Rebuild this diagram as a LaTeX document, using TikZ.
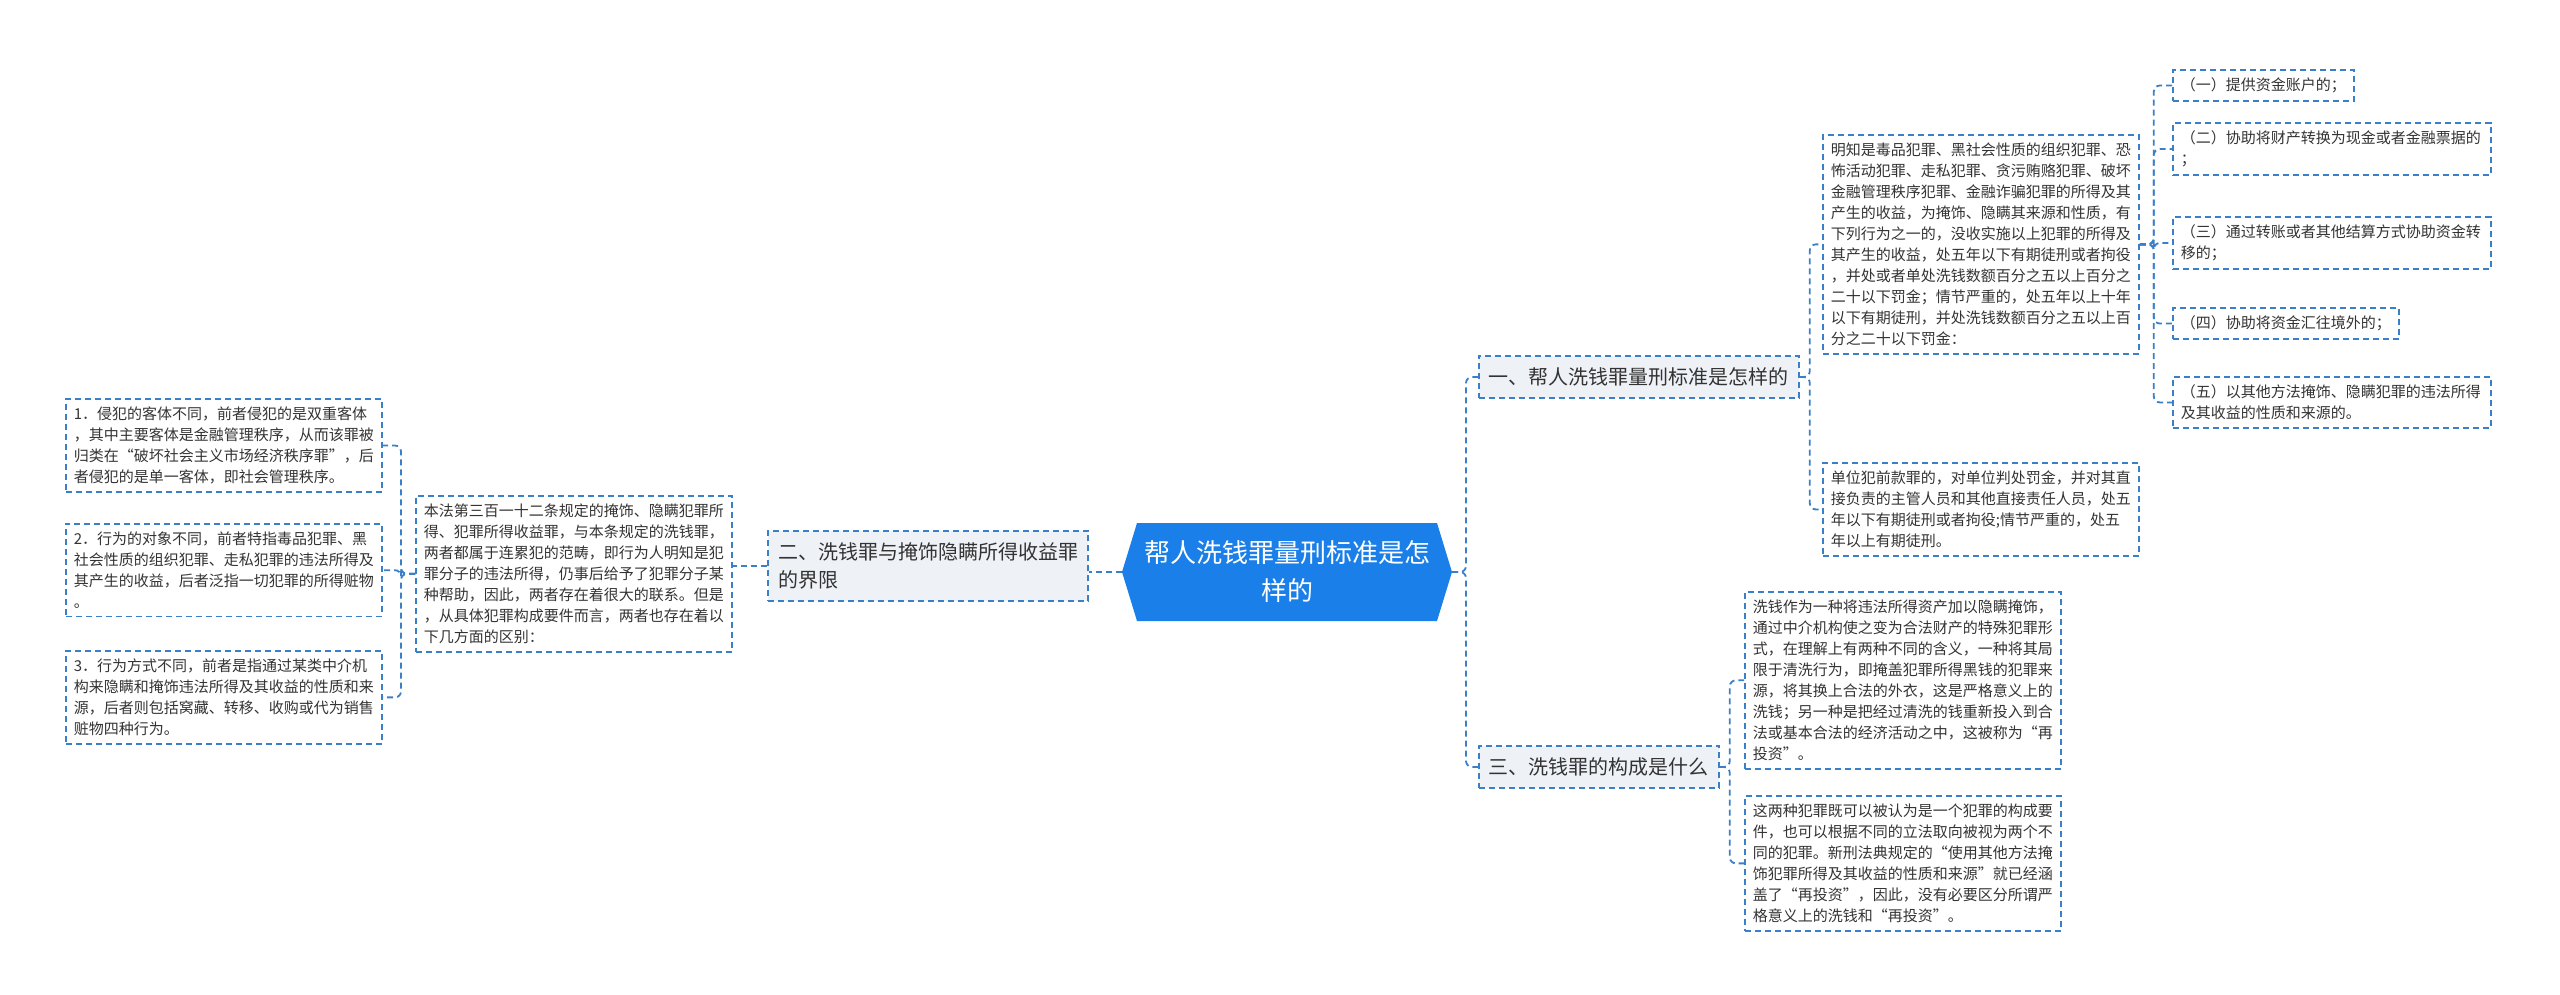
\documentclass[tikz,border=0pt]{standalone}
\usepackage{fontspec}
\setmainfont{Noto Sans CJK SC}
\begin{document}
\begin{tikzpicture}[x=0.5pt,y=-0.5pt,
  con/.style={draw=linec,line width=0.9pt,dash pattern=on 3pt off 2pt,rounded corners=3pt},
  leaf/.style={draw=linec,line width=0.9pt,dash pattern=on 3pt off 2pt,align=left,anchor=north west,
    font=\fontsize{7.5}{10.5}\selectfont,text=textc,inner xsep=4pt,inner ysep=4pt},
  branch/.style={draw=linec,fill=branchf,line width=0.9pt,dash pattern=on 3pt off 2pt,align=left,
    font=\fontsize{10}{14}\selectfont,text=textc,inner xsep=5pt,inner ysep=6pt}]
\definecolor{linec}{HTML}{3A80C8}
\definecolor{branchf}{HTML}{EEF2F7}
\definecolor{textc}{HTML}{333333}
\definecolor{mainf}{HTML}{1A7FE8}
\useasboundingbox (0,0) rectangle (2560,995);
% center
\node[minimum width=300,minimum height=98,align=center,text=white,font=\fontsize{13}{19}\selectfont] (c) at (1287,572) {帮人洗钱罪量刑标准是怎\\样的};
\begin{scope}[on background layer/.try]\end{scope}
\fill[mainf] (1122,572) -- (1137,523) -- (1437,523) -- (1452,572) -- (1437,621) -- (1137,621) -- cycle;
\node[minimum width=300,minimum height=98,align=center,text=white,font=\fontsize{13}{19}\selectfont] at (1287,572) {帮人洗钱罪量刑标准是怎\\样的};
% branches
\node[branch,anchor=west] (b1) at (1478,377) {一、帮人洗钱罪量刑标准是怎样的};
\node[branch,anchor=west] (b3) at (1478,767) {三、洗钱罪的构成是什么};
\node[branch,anchor=east,text width=150pt] (b2) at (1089,566) {二、洗钱罪与掩饰隐瞒所得收益罪\\的界限};
% right leaves
\node[leaf] (A) at (1822,134) {明知是毒品犯罪、黑社会性质的组织犯罪、恐\\怖活动犯罪、走私犯罪、贪污贿赂犯罪、破坏\\金融管理秩序犯罪、金融诈骗犯罪的所得及其\\产生的收益，为掩饰、隐瞒其来源和性质，有\\下列行为之一的，没收实施以上犯罪的所得及\\其产生的收益，处五年以下有期徒刑或者拘役\\，并处或者单处洗钱数额百分之五以上百分之\\二十以下罚金；情节严重的，处五年以上十年\\以下有期徒刑，并处洗钱数额百分之五以上百\\分之二十以下罚金：};
\node[leaf] (B) at (1822,462) {单位犯前款罪的，对单位判处罚金，并对其直\\接负责的主管人员和其他直接责任人员，处五\\年以下有期徒刑或者拘役;情节严重的，处五\\年以上有期徒刑。};
\node[leaf] (i1) at (2172,69) {（一）提供资金账户的；};
\node[leaf,text width=151pt] (i2) at (2172,122) {（二）协助将财产转换为现金或者金融票据的\\；};
\node[leaf,text width=151pt] (i3) at (2172,216) {（三）通过转账或者其他结算方式协助资金转\\移的；};
\node[leaf] (i4) at (2172,307) {（四）协助将资金汇往境外的；};
\node[leaf,text width=151pt] (i5) at (2172,376) {（五）以其他方法掩饰、隐瞒犯罪的违法所得\\及其收益的性质和来源的。};
\node[leaf] (C) at (1744,591) {洗钱作为一种将违法所得资产加以隐瞒掩饰，\\通过中介机构使之变为合法财产的特殊犯罪形\\式，在理解上有两种不同的含义，一种将其局\\限于清洗行为，即掩盖犯罪所得黑钱的犯罪来\\源，将其换上合法的外衣，这是严格意义上的\\洗钱；另一种是把经过清洗的钱重新投入到合\\法或基本合法的经济活动之中，这被称为“再\\投资”。};
\node[leaf] (D) at (1744,795) {这两种犯罪既可以被认为是一个犯罪的构成要\\件，也可以根据不同的立法取向被视为两个不\\同的犯罪。新刑法典规定的“使用其他方法掩\\饰犯罪所得及其收益的性质和来源”就已经涵\\盖了“再投资”，因此，没有必要区分所谓严\\格意义上的洗钱和“再投资”。};
% left leaves
\node[leaf] (L) at (415,495) {本法第三百一十二条规定的掩饰、隐瞒犯罪所\\得、犯罪所得收益罪，与本条规定的洗钱罪，\\两者都属于连累犯的范畴，即行为人明知是犯\\罪分子的违法所得，仍事后给予了犯罪分子某\\种帮助，因此，两者存在着很大的联系。但是\\，从具体犯罪构成要件而言，两者也存在着以\\下几方面的区别：};
\node[leaf] (l1) at (65,398) {1．侵犯的客体不同，前者侵犯的是双重客体\\，其中主要客体是金融管理秩序，从而该罪被\\归类在“破坏社会主义市场经济秩序罪”，后\\者侵犯的是单一客体，即社会管理秩序。};
\node[leaf] (l2) at (65,523) {2．行为的对象不同，前者特指毒品犯罪、黑\\社会性质的组织犯罪、走私犯罪的违法所得及\\其产生的收益，后者泛指一切犯罪的所得赃物\\。};
\node[leaf] (l3) at (65,650) {3．行为方式不同，前者是指通过某类中介机\\构来隐瞒和掩饰违法所得及其收益的性质和来\\源，后者则包括窝藏、转移、收购或代为销售\\赃物四种行为。};
% connectors
\draw[con] (1452,572) -- ++(14,0) |- (b1.west);
\draw[con] (1452,572) -- ++(14,0) |- (b3.west);
\draw[con] (1122,572) -- (b2.east |- 1122,572);
\draw[con] (b2.west) -- (L.east |- b2.west);
\draw[con] (L.west) -- ++(-14,0) |- (l1.east);
\draw[con] (L.west) -- ++(-14,0) |- (l2.east);
\draw[con] (L.west) -- ++(-14,0) |- (l3.east);
\draw[con] (b1.east) -- ++(10,0) |- (A.west);
\draw[con] (b1.east) -- ++(10,0) |- (B.west);
\draw[con] (A.east) -- ++(14,0) |- (i1.west);
\draw[con] (A.east) -- ++(14,0) |- (i2.west);
\draw[con] (A.east) -- ++(14,0) |- (i3.west);
\draw[con] (A.east) -- ++(14,0) |- (i4.west);
\draw[con] (A.east) -- ++(14,0) |- (i5.west);
\draw[con] (b3.east) -- ++(10,0) |- (C.west);
\draw[con] (b3.east) -- ++(10,0) |- (D.west);
\end{tikzpicture}
\end{document}
